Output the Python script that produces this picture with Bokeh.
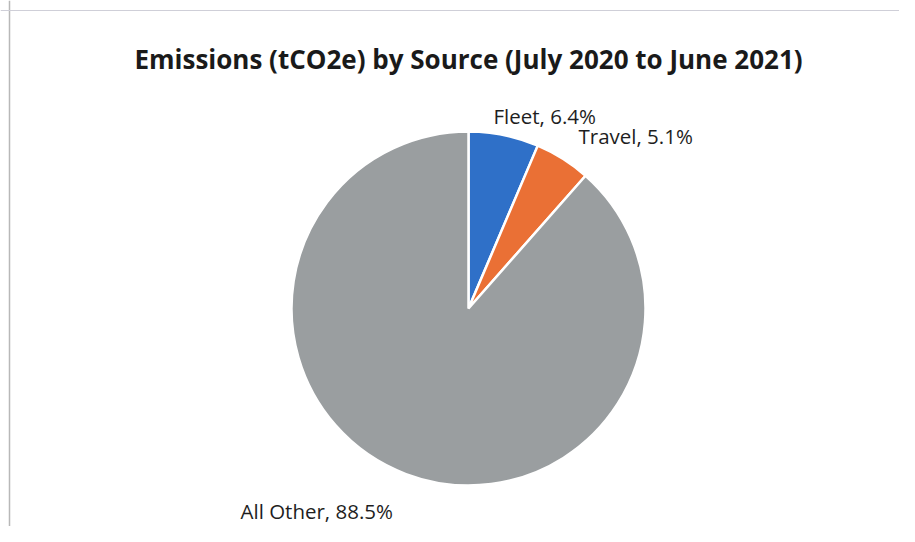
import math
from bokeh.plotting import figure
from bokeh.models import ColumnDataSource, Range1d, Span
from bokeh.core.properties import value
from bokeh.embed import file_html
from bokeh.resources import INLINE

# ---- data ----
title_text = "Emissions (tCO2e) by Source (July 2020 to June 2021)"
categories = ["Fleet", "Travel", "All Other"]
shares = [6.4, 5.1, 88.5]  # percent
colors = ["#2f70c8", "#ea7035", "#9a9ea0"]

# ---- layout (pixels) ----
W, H = 899, 526
cx, cy, R = 468, H - 308, 177
# label anchor offsets (left edge, baseline) relative to pie centre
label_off = [(25, 193), (110, 173), (-228, -202)]
FONT = "Open Sans"

total = sum(shares)
starts, ends = [], []
acc = 0.0
for s in shares:
    starts.append(math.pi / 2 - 2 * math.pi * acc / total)
    acc += s
    ends.append(math.pi / 2 - 2 * math.pi * acc / total)

src = ColumnDataSource(dict(
    cat=categories, share=shares, color=colors,
    start=starts, end=ends,
    x=[cx] * len(categories), y=[cy] * len(categories),
))

lab = ColumnDataSource(dict(
    text=[f"{c}, {s:.1f}%" for c, s in zip(categories, shares)],
    x=[cx + dx for dx, dy in label_off],
    y=[cy + dy for dx, dy in label_off],
))

p = figure(width=W, height=H, output_backend="svg", toolbar_location=None,
           x_range=Range1d(0, W), y_range=Range1d(0, H), min_border=0)
p.axis.visible = False
p.grid.visible = False
p.outline_line_color = None
p.background_fill_color = "white"
p.border_fill_color = "white"

p.wedge(x="x", y="y", radius=R, start_angle="start", end_angle="end",
        direction="clock", fill_color="color", line_color="white",
        line_width=2.5, source=src)

p.text(x="x", y="y", text="text", source=lab, text_font=value(FONT),
       text_font_size="20.5px", text_color="#1e1e1e", text_align="left",
       text_baseline="alphabetic")

title_src = ColumnDataSource(dict(x=[cx], y=[H - 58], text=[title_text]))
p.text(x="x", y="y", text="text", source=title_src, text_font=value(FONT),
       text_font_style="bold", text_font_size="26px", text_color="#1a1a1a",
       text_align="center", text_baseline="alphabetic")

# chart-area border (left & top visible in the reference)
p.add_layout(Span(location=9, dimension="height", line_color="#b8b8b8", line_width=1.5))
p.add_layout(Span(location=H - 10, dimension="width", line_color="#cfcfd8", line_width=1))

open("out.html", "w").write(file_html(p, INLINE))
